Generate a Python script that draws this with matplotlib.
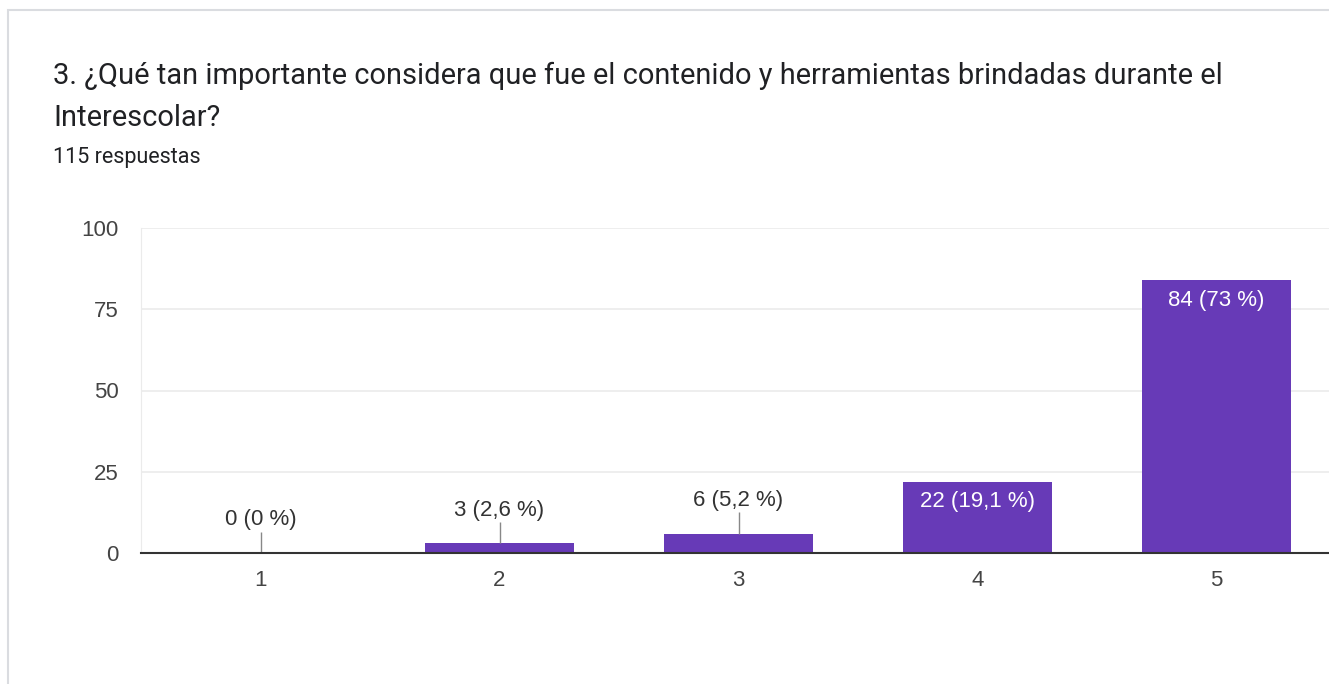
import matplotlib.pyplot as plt
from matplotlib.patches import Rectangle

# Data
categories = ["1", "2", "3", "4", "5"]
counts = [0, 3, 6, 22, 84]
percents = ["0 %", "2,6 %", "5,2 %", "19,1 %", "73 %"]
y_ticks = [0, 25, 50, 75, 100]

plt.rcParams["font.family"] = ["Roboto", "DejaVu Sans"]
chart_font = ["Liberation Sans", "DejaVu Sans"]

W, H = 1329, 684
fig = plt.figure(figsize=(W / 100, H / 100), dpi=100)

# card border
fig.patches.append(Rectangle((8 / W, -0.1), 2.0, (H - 10) / H + 0.1,
                             transform=fig.transFigure, fill=False,
                             edgecolor="#dadce0", lw=1.5))

fig.text(53 / W, 1 - 76 / H, "3. ¿Qué tan importante considera que fue el contenido y herramientas brindadas durante el",
         fontsize=20.9, color="#202124", va="center", ha="left")
fig.text(53 / W, 1 - 118 / H, "Interescolar?", fontsize=20.9, color="#202124", va="center", ha="left")
fig.text(53 / W, 1 - 158 / H, "115 respuestas", fontsize=15.5, color="#202124", va="center", ha="left")

ax = fig.add_axes([141 / W, (H - 553) / H, (1336 - 141) / W, (553 - 228) / H])
x = list(range(1, len(categories) + 1))
bar_color = "#673ab7"
ax.bar(x, counts, width=0.62, color=bar_color, zorder=3)

ax.set_xlim(0.5, len(categories) + 0.5)
ax.set_ylim(0, 100)
ax.set_yticks(y_ticks)
ax.set_xticks(x)
ax.set_xticklabels(categories)
ax.tick_params(axis="both", length=0, labelsize=16, colors="#444444")
for lbl in ax.get_xticklabels() + ax.get_yticklabels():
    lbl.set_family(chart_font)
ax.tick_params(axis="y", pad=16)
ax.tick_params(axis="x", pad=12)
ax.grid(axis="y", color="#ebebeb", lw=1.2, zorder=0)
for s in ["top", "right"]:
    ax.spines[s].set_visible(False)
ax.spines["left"].set_color("#ebebeb")
ax.spines["bottom"].set_color("#333333")
ax.spines["bottom"].set_linewidth(1.5)
ax.spines["bottom"].set_zorder(4)

for xi, c, p in zip(x, counts, percents):
    label = f"{c} ({p})"
    if c >= 15:
        ax.annotate(label, xy=(xi, c), xytext=(0, -7), textcoords="offset points",
                    ha="center", va="top", color="white", fontsize=16, family=chart_font)
    else:
        ax.vlines(xi, c, c + 6.5, color="#888888", lw=1, zorder=4)
        ax.annotate(label, xy=(xi, c + 6.5), xytext=(0, 1), textcoords="offset points",
                    ha="center", va="bottom", color="#333333", fontsize=16, family=chart_font)

fig.savefig("out.png", dpi=100)
